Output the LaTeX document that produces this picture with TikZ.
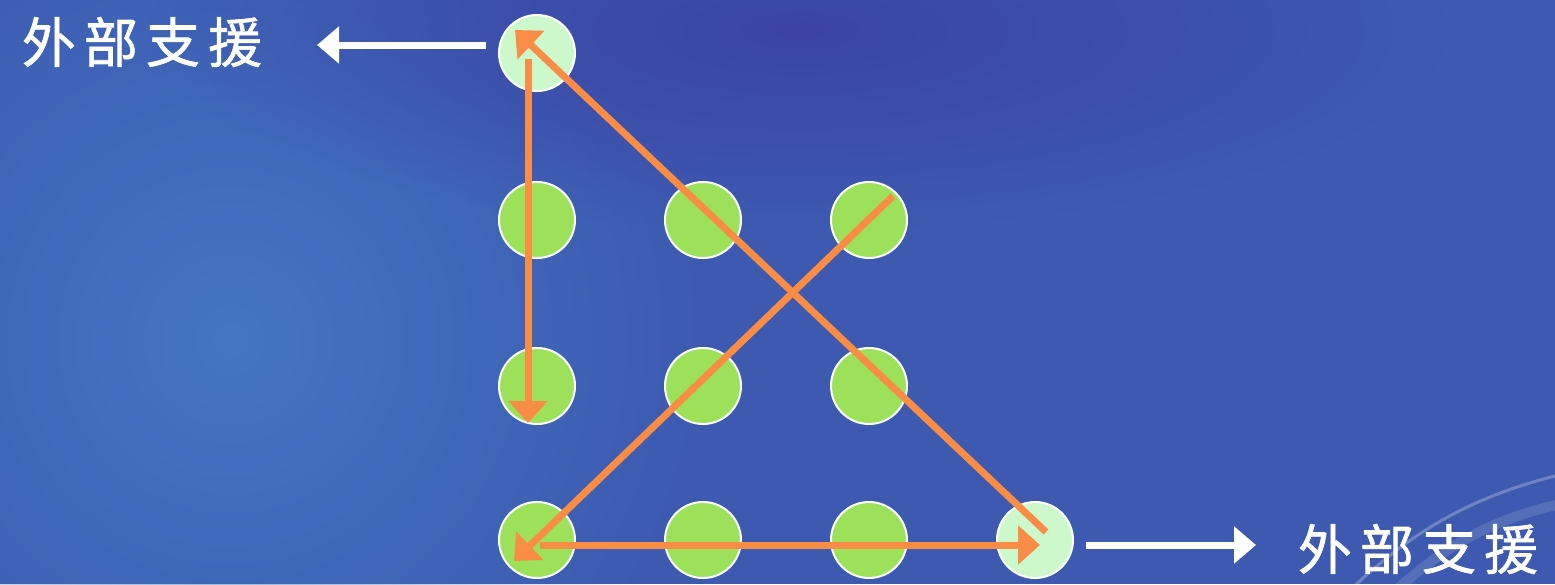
\documentclass[tikz,border=0pt]{standalone}
\usepackage{fontspec}
\newfontfamily\cjk[FakeBold=1.2]{Noto Sans CJK TC}
\usetikzlibrary{arrows.meta,calc,fadings}
\definecolor{bgbase}{HTML}{3D5AB0}
\definecolor{bgglow}{HTML}{4376C3}
\definecolor{bgdark}{HTML}{3B44A6}
\definecolor{dotgreen}{HTML}{9DE05A}
\definecolor{dotpale}{HTML}{CCF8CC}
\definecolor{arrorange}{HTML}{F98D45}
\tikzfading[name=softglow, inner color=transparent!0, outer color=transparent!100]
\tikzset{
  dot/.style={circle, draw=white, line width=2pt, fill=dotgreen, minimum size=76pt, inner sep=0pt},
  paledot/.style={dot, fill=dotpale},
  orangearrow/.style={draw=arrorange, line width=7pt, -{Triangle[length=22pt,width=38pt]}},
  whitearrow/.style={draw=white, line width=7pt, -{Triangle[length=22pt,width=36pt]}},
  label/.style={text=white, font=\cjk\fontsize{54}{60}\selectfont\addfontfeature{LetterSpace=15}}
}
\begin{document}
\begin{tikzpicture}[x=1pt,y=-1pt]
\useasboundingbox (0,0) rectangle (1555,584);
% background
\fill[bgbase] (0,0) rectangle (1555,584);
\begin{scope}
\clip (0,0) rectangle (1555,584);
\fill[bgglow, path fading=softglow] (230,340) circle (480);
\fill[bgdark, path fading=softglow] (800,30) ellipse (650 and 200);
\draw[white, opacity=0.25, line width=3pt] (1340,600) .. controls (1420,520) and (1490,490) .. (1580,470);
\draw[white, opacity=0.12, line width=10pt] (1385,600) .. controls (1450,540) and (1500,515) .. (1580,500);
\end{scope}
% dots
\node[paledot] (c00) at (537,53) {};
\node[dot] (c10) at (537,220) {};
\node[dot] (c11) at (703,220) {};
\node[dot] (c12) at (869,220) {};
\node[dot] (c20) at (537,386) {};
\node[dot] (c21) at (703,386) {};
\node[dot] (c22) at (869,386) {};
\node[dot] (c30) at (537,540) {};
\node[dot] (c31) at (703,540) {};
\node[dot] (c32) at (869,540) {};
\node[paledot] (c33) at (1035,540) {};
% arrow end points
\coordinate (vStart) at ($(c00)+(-9,6)$);
\coordinate (vEnd) at ($(c20)+(-9,37)$);
\coordinate (dStart) at ($(c33)+(11,-8)$);
\coordinate (dEnd) at ($(c00)+(-22,-23)$);
\coordinate (xStart) at ($(c12)+(24,-24)$);
\coordinate (xEnd) at ($(c30)+(-23,21)$);
\coordinate (hStart) at ($(c30)+(3,5)$);
\coordinate (hEnd) at ($(c33)+(5,5)$);
% orange arrows
\draw[orangearrow] (vStart) -- (vEnd);
\draw[orangearrow] (dStart) -- (dEnd);
\draw[orangearrow] (xStart) -- (xEnd);
\draw[orangearrow] (hStart) -- (hEnd);
% labels
\node[label, anchor=center] (tl) at (142,42) {外部支援};
\node[label, anchor=center] (br) at (1418,549) {外部支援};
\coordinate (tlTail) at ($(c00.west)+(-12,-8)$);
\coordinate (tlTip) at ($(c00.west)+(-181,-8)$);
\coordinate (brTail) at ($(c33.east)+(12,5)$);
\coordinate (brTip) at ($(c33.east)+(182,5)$);
\draw[whitearrow] (tlTail) -- (tlTip);
\draw[whitearrow] (brTail) -- (brTip);
\end{tikzpicture}
\end{document}
